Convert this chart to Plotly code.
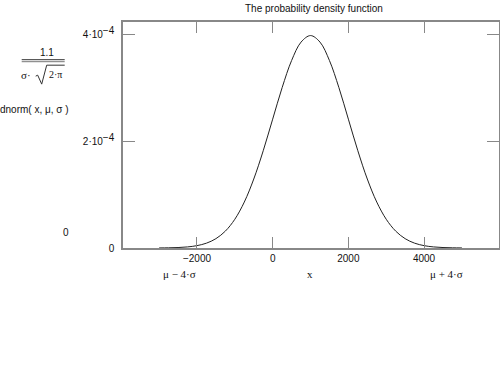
import plotly.graph_objects as go

# Data (density values in units of 1e-4)
x_vals = [-3000, -2750, -2500, -2250, -2000, -1750, -1500, -1250, -1000, -750, -500, -250,
          0, 250, 500, 750, 1000, 1250, 1500, 1750, 2000, 2250, 2500, 2750,
          3000, 3250, 3500, 3750, 4000, 4250, 4500, 4750, 5000]
dens_e4 = [0.0013, 0.0035, 0.0087, 0.0203, 0.0443, 0.0909, 0.1753, 0.3174, 0.5399, 0.8628,
           1.2952, 1.8265, 2.4197, 3.0114, 3.5207, 3.8667, 3.9894, 3.8667, 3.5207, 3.0114,
           2.4197, 1.8265, 1.2952, 0.8628, 0.5399, 0.3174, 0.1753, 0.0909, 0.0443, 0.0203,
           0.0087, 0.0035, 0.0013]
y_vals = [v * 1e-4 for v in dens_e4]

x_ticks = [-2000, 0, 2000, 4000]
x_tick_labels = ["\u22122000", "0", "2000", "4000"]
y_ticks = [0, 2e-4, 4e-4]
y_tick_labels = ["0",
                 "2\u00b710<sup><span style='font-size:10px'>\u22124</span></sup>",
                 "4\u00b710<sup><span style='font-size:10px'>\u22124</span></sup>"]

title_text = "The probability density function"

W, H = 500, 370
L, R, T, B = 123.3, 499.3, 21.7, 248.3

def px(xp):
    return (xp - L) / (R - L)

def py(yp):
    return (B - yp) / (B - T)

fig = go.Figure()
fig.add_trace(go.Scatter(x=x_vals, y=y_vals, mode="lines",
                         line=dict(color="#222222", width=1, shape="spline"),
                         hoverinfo="skip", showlegend=False))

sans = "Liberation Sans, Arial, sans-serif"
serif = "Liberation Serif, Times New Roman, serif"

fig.update_layout(
    width=W, height=H,
    margin=dict(l=L, r=W - R, t=T, b=H - B, pad=0),
    paper_bgcolor="white", plot_bgcolor="white",
    showlegend=False,
    font=dict(family=sans, size=10, color="#111111"),
    xaxis=dict(range=[-3955, 5980], tickvals=x_ticks, ticktext=x_tick_labels,
               ticks="inside", ticklen=11, tickcolor="#888888", tickwidth=1,
               showline=True, linecolor="#888888", linewidth=1.5, mirror="ticks",
               showgrid=False, zeroline=False, tickfont=dict(family=sans, size=10, color="#111111")),
    yaxis=dict(range=[0, 4.244e-4], tickvals=y_ticks, ticktext=y_tick_labels,
               ticks="inside", ticklen=12, tickcolor="#888888", tickwidth=1,
               showline=True, linecolor="#888888", linewidth=1.5, mirror="ticks",
               showgrid=False, zeroline=False, ticklabelstandoff=5,
               tickfont=dict(family=sans, size=10, color="#111111")),
)

ann = []
def add_text(text, xp, yp, family=sans, size=10, xanchor="center"):
    ann.append(dict(text=text, x=px(xp), y=py(yp), xref="paper", yref="paper",
                    xanchor=xanchor, yanchor="middle", showarrow=False,
                    font=dict(family=family, size=size, color="#111111")))

add_text(title_text, 314, 8)
add_text("\u03bc \u2212 4\u00b7\u03c3", 180, 274, family=serif, size=11)
add_text("x", 310, 274, family=serif, size=11)
add_text("\u03bc + 4\u00b7\u03c3", 447, 274, family=serif, size=11)
add_text("1.1", 47, 52)
add_text("\u03c3\u00b7", 26, 75, family=serif, size=11)
add_text("2\u00b7\u03c0", 56, 74, family=serif, size=10)
add_text("dnorm( x, \u03bc, \u03c3 )", 35, 109)
add_text("0", 66, 233)
fig.update_layout(annotations=ann)

shapes = []
def line(x0, y0, x1, y1, w=1, c="#333333"):
    shapes.append(dict(type="line", xref="paper", yref="paper",
                       x0=px(x0), y0=py(y0), x1=px(x1), y1=py(y1),
                       line=dict(color=c, width=w)))

# fraction bar
line(22, 59.5, 65, 59.5, 1)
line(22, 61.5, 65, 61.5, 1, "#777777")
# radical sign
line(36, 76, 38, 75, 1)
line(38, 75, 42, 84, 1)
line(42, 84, 47, 65, 1)
line(47, 65, 65, 65, 1)
fig.update_layout(shapes=shapes)

fig.write_html("out.html")
